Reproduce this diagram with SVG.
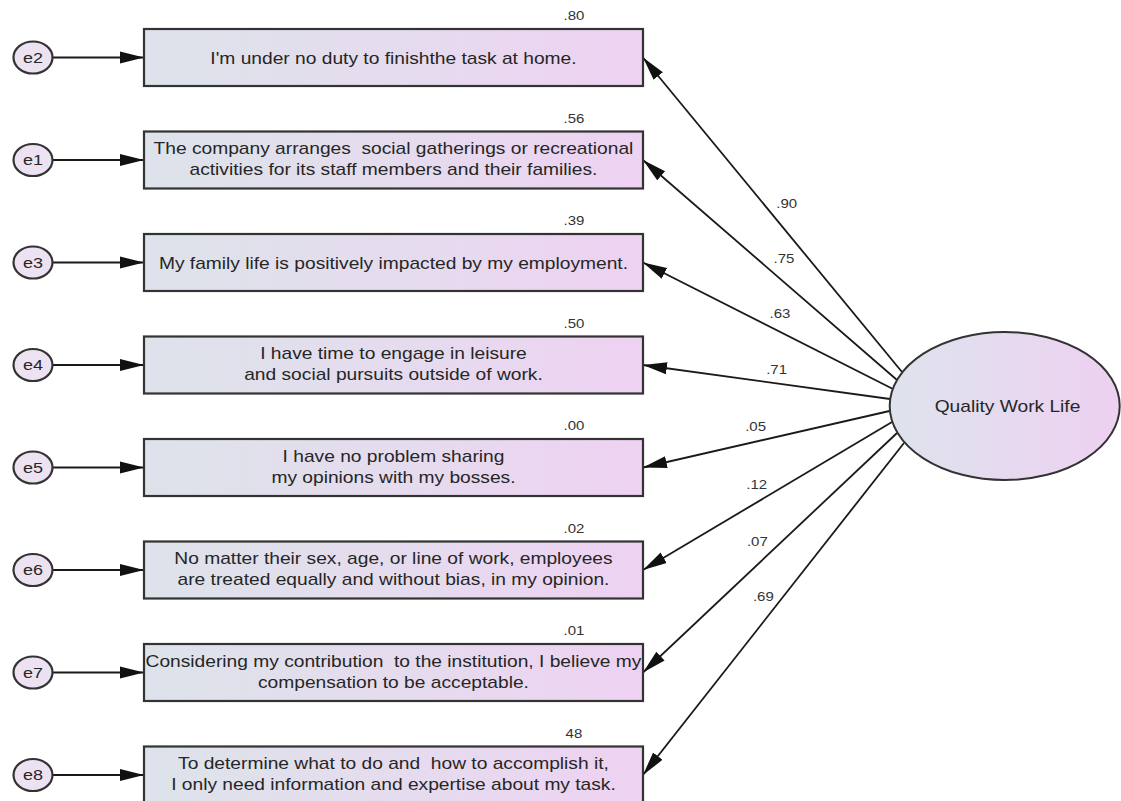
<svg xmlns="http://www.w3.org/2000/svg" width="1121" height="801" viewBox="0 0 1121 801">
<defs>
<linearGradient id="gBox" x1="0" y1="0" x2="1" y2="0">
<stop offset="0" stop-color="#dde3ea"/>
<stop offset="0.5" stop-color="#e5dcee"/>
<stop offset="1" stop-color="#eed2f2"/>
</linearGradient>
<linearGradient id="gLat" x1="0" y1="0" x2="1" y2="0">
<stop offset="0" stop-color="#dee3ed"/>
<stop offset="1" stop-color="#edd1f1"/>
</linearGradient>
<marker id="arr" markerUnits="userSpaceOnUse" markerWidth="26" markerHeight="14" refX="24" refY="7" orient="auto">
<path d="M0,1 L24,7 L0,13 z" fill="#111"/>
</marker>
<style>
.box{fill:url(#gBox);stroke:#333;stroke-width:2.2}
.err{fill:#ece2f1;stroke:#333;stroke-width:2.2}
.lat{fill:url(#gLat);stroke:#333;stroke-width:2}
.con{stroke:#1a1a1a;stroke-width:1.8;fill:none;marker-end:url(#arr)}
.t{font-family:"Liberation Sans",Arial,sans-serif;font-size:16px;fill:#262626;text-anchor:middle}
.e{font-family:"Liberation Sans",Arial,sans-serif;font-size:15px;fill:#262626;text-anchor:middle}
.n{font-family:"Liberation Sans",Arial,sans-serif;font-size:12.5px;fill:#333;text-anchor:middle}
</style>
</defs>
<rect width="1121" height="801" fill="#ffffff"/>

<g id="connectors">
<line class="con" x1="52.5" y1="57.5" x2="144" y2="57.5"/>
<line class="con" x1="52.5" y1="160" x2="144" y2="160"/>
<line class="con" x1="52.5" y1="262.5" x2="144" y2="262.5"/>
<line class="con" x1="52.5" y1="365" x2="144" y2="365"/>
<line class="con" x1="52.5" y1="467.5" x2="144" y2="467.5"/>
<line class="con" x1="52.5" y1="570" x2="144" y2="570"/>
<line class="con" x1="52.5" y1="672.5" x2="144" y2="672.5"/>
<line class="con" x1="52.5" y1="775" x2="144" y2="775"/>
<line class="con" x1="902" y1="372" x2="643" y2="57.5"/>
<line class="con" x1="897" y1="380" x2="643" y2="160"/>
<line class="con" x1="893" y1="389" x2="643" y2="262.5"/>
<line class="con" x1="890" y1="399" x2="643" y2="365"/>
<line class="con" x1="889.5" y1="411" x2="643" y2="467.5"/>
<line class="con" x1="892" y1="422" x2="643" y2="570"/>
<line class="con" x1="897" y1="433" x2="643" y2="672.5"/>
<line class="con" x1="904" y1="443" x2="643" y2="775"/>
<text class="n" transform="scale(1.2,1)" x="655.6" y="207.8">.90</text>
<text class="n" transform="scale(1.2,1)" x="653.3" y="262.8">.75</text>
<text class="n" transform="scale(1.2,1)" x="650" y="317.8">.63</text>
<text class="n" transform="scale(1.2,1)" x="647.2" y="374.5">.71</text>
<text class="n" transform="scale(1.2,1)" x="629.7" y="431.2">.05</text>
<text class="n" transform="scale(1.2,1)" x="630.6" y="489.5">.12</text>
<text class="n" transform="scale(1.2,1)" x="631.1" y="546.2">.07</text>
<text class="n" transform="scale(1.2,1)" x="636.1" y="601.2">.69</text>
</g>

<g id="latent-qwl">
<ellipse class="lat" cx="1004.7" cy="406" rx="115" ry="74"/>
<text class="t" transform="scale(1.2,1)" x="839.6" y="412">Quality Work Life</text>
</g>

<g id="err-e2"><ellipse class="err" cx="33" cy="57.5" rx="19.5" ry="16"/><text class="e" transform="scale(1.2,1)" x="27.5" y="63">e2</text></g>
<g id="err-e1"><ellipse class="err" cx="33" cy="160" rx="19.5" ry="16"/><text class="e" transform="scale(1.2,1)" x="27.5" y="165.5">e1</text></g>
<g id="err-e3"><ellipse class="err" cx="33" cy="262.5" rx="19.5" ry="16"/><text class="e" transform="scale(1.2,1)" x="27.5" y="268">e3</text></g>
<g id="err-e4"><ellipse class="err" cx="33" cy="365" rx="19.5" ry="16"/><text class="e" transform="scale(1.2,1)" x="27.5" y="370.5">e4</text></g>
<g id="err-e5"><ellipse class="err" cx="33" cy="467.5" rx="19.5" ry="16"/><text class="e" transform="scale(1.2,1)" x="27.5" y="473">e5</text></g>
<g id="err-e6"><ellipse class="err" cx="33" cy="570" rx="19.5" ry="16"/><text class="e" transform="scale(1.2,1)" x="27.5" y="575.5">e6</text></g>
<g id="err-e7"><ellipse class="err" cx="33" cy="672.5" rx="19.5" ry="16"/><text class="e" transform="scale(1.2,1)" x="27.5" y="678">e7</text></g>
<g id="err-e8"><ellipse class="err" cx="33" cy="775" rx="19.5" ry="16"/><text class="e" transform="scale(1.2,1)" x="27.5" y="780.5">e8</text></g>

<g id="obs-1">
<rect class="box" x="144" y="29" width="499" height="57"/>
<text class="t" transform="scale(1.2,1)" x="327.9" y="64">I'm under no duty to finishthe task at home.</text>
<text class="n" transform="scale(1.2,1)" x="478.3" y="20.5">.80</text>
</g>
<g id="obs-2">
<rect class="box" x="144" y="131.5" width="499" height="57"/>
<text class="t" transform="scale(1.2,1)" x="327.9" y="154.5" xml:space="preserve">The company arranges  social gatherings or recreational</text>
<text class="t" transform="scale(1.2,1)" x="327.9" y="175.5">activities for its staff members and their families.</text>
<text class="n" transform="scale(1.2,1)" x="478.3" y="123">.56</text>
</g>
<g id="obs-3">
<rect class="box" x="144" y="234" width="499" height="57"/>
<text class="t" transform="scale(1.2,1)" x="327.9" y="269">My family life is positively impacted by my employment.</text>
<text class="n" transform="scale(1.2,1)" x="478.3" y="225.5">.39</text>
</g>
<g id="obs-4">
<rect class="box" x="144" y="336.5" width="499" height="57"/>
<text class="t" transform="scale(1.2,1)" x="327.9" y="359.5">I have time to engage in leisure</text>
<text class="t" transform="scale(1.2,1)" x="327.9" y="380.5">and social pursuits outside of work.</text>
<text class="n" transform="scale(1.2,1)" x="478.3" y="328">.50</text>
</g>
<g id="obs-5">
<rect class="box" x="144" y="439" width="499" height="57"/>
<text class="t" transform="scale(1.2,1)" x="327.9" y="462">I have no problem sharing</text>
<text class="t" transform="scale(1.2,1)" x="327.9" y="483">my opinions with my bosses.</text>
<text class="n" transform="scale(1.2,1)" x="478.3" y="430.5">.00</text>
</g>
<g id="obs-6">
<rect class="box" x="144" y="541.5" width="499" height="57"/>
<text class="t" transform="scale(1.2,1)" x="327.9" y="564.5">No matter their sex, age, or line of work, employees</text>
<text class="t" transform="scale(1.2,1)" x="327.9" y="585.5">are treated equally and without bias, in my opinion.</text>
<text class="n" transform="scale(1.2,1)" x="478.3" y="533">.02</text>
</g>
<g id="obs-7">
<rect class="box" x="144" y="644" width="499" height="57"/>
<text class="t" transform="scale(1.2,1)" x="327.9" y="667" xml:space="preserve">Considering my contribution  to the institution, I believe my</text>
<text class="t" transform="scale(1.2,1)" x="327.9" y="688">compensation to be acceptable.</text>
<text class="n" transform="scale(1.2,1)" x="478.3" y="635.5">.01</text>
</g>
<g id="obs-8">
<rect class="box" x="144" y="746.5" width="499" height="57"/>
<text class="t" transform="scale(1.2,1)" x="327.9" y="769.5" xml:space="preserve">To determine what to do and  how to accomplish it,</text>
<text class="t" transform="scale(1.2,1)" x="327.9" y="790.5">I only need information and expertise about my task.</text>
<text class="n" transform="scale(1.2,1)" x="478.3" y="738">48</text>
</g>
</svg>
